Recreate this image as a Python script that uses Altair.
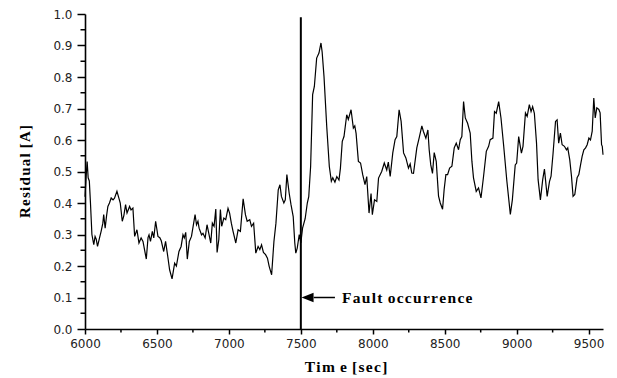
import altair as alt
import pandas as pd

time_sec = [
    6000, 6010, 6015, 6022, 6030, 6038, 6048, 6061, 6070, 6078, 6087, 6101, 6112, 6124, 6130,
    6140, 6150, 6159, 6170, 6182, 6195, 6205, 6222, 6235, 6245, 6259, 6270, 6282, 6292, 6310,
    6320, 6333, 6345, 6361, 6375, 6390, 6403, 6426, 6438, 6445, 6455, 6468, 6478, 6491, 6507,
    6520, 6530, 6547, 6560, 6575, 6588, 6605, 6623, 6635, 6653, 6668, 6681, 6690, 6700, 6711,
    6725, 6740, 6765, 6775, 6785, 6793, 6810, 6820, 6835, 6848, 6860, 6874, 6885, 6897, 6909,
    6918, 6930, 6941, 6950, 6965, 6978, 6994, 7005, 7017, 7029, 7048, 7064, 7080, 7099, 7115,
    7127, 7145, 7157, 7172, 7187, 7203, 7215, 7227, 7240, 7255, 7268, 7280, 7297, 7313, 7327,
    7343, 7355, 7365, 7382, 7392, 7403, 7419, 7432, 7447, 7458, 7465, 7475, 7489, 7500, 7512,
    7530, 7545, 7555, 7568, 7582, 7594, 7610, 7626, 7640, 7648, 7661, 7680, 7698, 7712, 7722,
    7737, 7750, 7765, 7775, 7788, 7800, 7819, 7830, 7849, 7865, 7875, 7884, 7900, 7915, 7930,
    7946, 7958, 7974, 7988, 7997, 8012, 8028, 8040, 8062, 8080, 8097, 8108, 8121, 8139, 8155,
    8167, 8183, 8197, 8214, 8230, 8248, 8260, 8271, 8283, 8306, 8322, 8341, 8352, 8369, 8383,
    8392, 8403, 8415, 8427, 8441, 8457, 8469, 8485, 8496, 8508, 8520, 8534, 8550, 8566, 8580,
    8596, 8608, 8619, 8631, 8643, 8659, 8677, 8689, 8700, 8719, 8735, 8752, 8770, 8789, 8805,
    8816, 8835, 8846, 8858, 8875, 8891, 8909, 8932, 8956, 8970, 8990, 9000, 9014, 9033, 9044,
    9061, 9073, 9088, 9100, 9111, 9123, 9138, 9149, 9165, 9181, 9193, 9212, 9228, 9239, 9253,
    9270, 9281, 9292, 9304, 9316, 9332, 9346, 9355, 9369, 9381, 9392, 9404, 9420, 9432, 9444,
    9455, 9467, 9479, 9490, 9502, 9513, 9525, 9536, 9546, 9557, 9571, 9580, 9590, 9595, 9600,
]

residual = [
    0.42, 0.50, 0.532, 0.48, 0.47, 0.40, 0.30, 0.268, 0.294, 0.285, 0.262, 0.289, 0.31, 0.336, 0.363,
    0.32, 0.36, 0.389, 0.40, 0.416, 0.41, 0.415, 0.437, 0.416, 0.40, 0.342, 0.36, 0.395, 0.368, 0.389,
    0.378, 0.384, 0.294, 0.315, 0.273, 0.289, 0.278, 0.222, 0.29, 0.299, 0.278, 0.31, 0.289, 0.342, 0.294,
    0.29, 0.28, 0.246, 0.278, 0.231, 0.188, 0.159, 0.209, 0.20, 0.246, 0.262, 0.299, 0.289, 0.307, 0.222,
    0.278, 0.294, 0.363, 0.331, 0.342, 0.32, 0.299, 0.304, 0.289, 0.331, 0.304, 0.273, 0.336, 0.326, 0.381,
    0.243, 0.284, 0.379, 0.326, 0.352, 0.347, 0.383, 0.368, 0.336, 0.31, 0.273, 0.315, 0.31, 0.413, 0.363,
    0.342, 0.347, 0.326, 0.336, 0.241, 0.262, 0.252, 0.267, 0.243, 0.236, 0.225, 0.199, 0.172, 0.278, 0.336,
    0.442, 0.458, 0.421, 0.40, 0.41, 0.49, 0.431, 0.394, 0.357, 0.273, 0.241, 0.257, 0.30, 0.273, 0.32,
    0.35, 0.40, 0.42, 0.516, 0.744, 0.77, 0.86, 0.876, 0.908, 0.88, 0.802, 0.643, 0.516, 0.469, 0.48,
    0.466, 0.484, 0.473, 0.51, 0.596, 0.611, 0.68, 0.665, 0.696, 0.638, 0.645, 0.621, 0.532, 0.527, 0.49,
    0.458, 0.484, 0.368, 0.43, 0.363, 0.41, 0.405, 0.479, 0.50, 0.527, 0.505, 0.53, 0.484, 0.559, 0.601,
    0.611, 0.696, 0.659, 0.559, 0.543, 0.511, 0.524, 0.495, 0.494, 0.575, 0.606, 0.645, 0.627, 0.606, 0.632,
    0.569, 0.521, 0.494, 0.56, 0.532, 0.422, 0.40, 0.38, 0.443, 0.49, 0.49, 0.511, 0.517, 0.575, 0.59,
    0.569, 0.601, 0.611, 0.722, 0.67, 0.653, 0.622, 0.532, 0.48, 0.437, 0.448, 0.416, 0.485, 0.564, 0.58,
    0.601, 0.606, 0.69, 0.685, 0.722, 0.67, 0.585, 0.469, 0.364, 0.41, 0.521, 0.527, 0.611, 0.558, 0.58,
    0.686, 0.675, 0.712, 0.69, 0.706, 0.685, 0.59, 0.474, 0.41, 0.474, 0.508, 0.421, 0.468, 0.485, 0.558,
    0.659, 0.664, 0.59, 0.622, 0.585, 0.58, 0.569, 0.575, 0.537, 0.485, 0.421, 0.427, 0.48, 0.49, 0.521,
    0.548, 0.569, 0.575, 0.585, 0.606, 0.60, 0.628, 0.733, 0.67, 0.702, 0.697, 0.686, 0.585, 0.58, 0.553,
]

x_major = [6000, 6500, 7000, 7500, 8000, 8500, 9000, 9500]
x_minor = [6250, 6750, 7250, 7750, 8250, 8750, 9250]
y_major = [0.0, 0.1, 0.2, 0.3, 0.4, 0.5, 0.6, 0.7, 0.8, 0.9, 1.0]
y_minor = [0.05, 0.15, 0.25, 0.35, 0.45, 0.55, 0.65, 0.75, 0.85, 0.95]

fault_time = [7500]
fault_line_bottom = [0.0]
fault_line_top = [0.99]
arrow_level = [0.1]
arrow_tail = [7737]
arrow_shaft_start = [7590]
arrow_tip = [7505]
label_time = [7786]
fault_text = ["F\u200aa\u200au\u200al\u200at \u200ao\u200ac\u200ac\u200au\u200ar\u200ar\u200ae\u200an\u200ac\u200ae"]
x_title = ["T\u200ai\u200am \u200ae \u200a[\u200as\u200ae\u200ac\u200a]"]
y_title = ["R\u200ae\u200as\u200ai\u200ad\u200au\u200aa\u200al \u200a[\u200aA\u200a]"]

W, H = 518, 315

xs = alt.Scale(domain=[6000, 9600], nice=False, zero=False)
ys = alt.Scale(domain=[0, 1], nice=False, zero=False)

x_axis = alt.Axis(values=x_major, title=None, grid=False, format="d",
                  domainColor="black", domainWidth=1.6, tickColor="black", tickWidth=1.5,
                  tickSize=5, labelFont="DejaVu Sans", labelFontSize=12, labelColor="#222",
                  labelPadding=4, labelFlush=False, labelOverlap=False)
y_axis = alt.Axis(values=y_major, title=None, grid=False, format=".1f",
                  domainColor="black", domainWidth=1.6, tickColor="black", tickWidth=1.5,
                  tickSize=8, labelFont="DejaVu Sans", labelFontSize=12, labelColor="#222",
                  labelPadding=5, labelFlush=False, labelOverlap=False)


def X(field):
    return alt.X(field, scale=xs, axis=x_axis)


def Y(field):
    return alt.Y(field, scale=ys, axis=y_axis)


df = pd.DataFrame({"t": time_sec, "r": residual})

line = alt.Chart(df).mark_line(color="black", strokeWidth=1.2).encode(
    x=X("t:Q"), y=Y("r:Q"),
)

xminor = alt.Chart(pd.DataFrame({"t": x_minor})).mark_rule(color="black", strokeWidth=1.5).encode(
    x=X("t:Q"), y=alt.value(H), y2=alt.value(H + 3.5),
)
yminor = alt.Chart(pd.DataFrame({"r": y_minor})).mark_rule(color="black", strokeWidth=1.5).encode(
    y=Y("r:Q"), x=alt.value(-4.5), x2=alt.value(0),
)

fault = alt.Chart(pd.DataFrame({"t": fault_time, "r": fault_line_bottom, "r2": fault_line_top})).mark_rule(
    color="black", strokeWidth=2).encode(
    x=X("t:Q"), y=Y("r:Q"), y2="r2:Q",
)

shaft = alt.Chart(pd.DataFrame({"t": arrow_shaft_start, "t2": arrow_tail, "r": arrow_level})).mark_rule(
    color="black", strokeWidth=1.5).encode(
    x=X("t:Q"), x2="t2:Q", y=Y("r:Q"),
)

head = alt.Chart(pd.DataFrame({"t": arrow_tip, "r": arrow_level})).mark_point(
    shape="M0,0 L2,-0.8 L2,0.8 Z", size=144, filled=True, color="black", opacity=1, strokeWidth=0).encode(
    x=X("t:Q"), y=Y("r:Q"),
)

label = alt.Chart(pd.DataFrame({"t": label_time, "r": arrow_level, "s": fault_text})).mark_text(
    align="left", baseline="middle", font="Liberation Serif", fontWeight="bold", fontSize=15.5,
    color="black").encode(
    x=X("t:Q"), y=Y("r:Q"), text="s:N",
)

xt = alt.Chart(pd.DataFrame({"s": x_title})).mark_text(
    align="center", baseline="middle", font="Liberation Serif", fontWeight="bold", fontSize=15.5,
    color="black").encode(x=alt.value(261), y=alt.value(353), text="s:N")

yt = alt.Chart(pd.DataFrame({"s": y_title})).mark_text(
    align="center", baseline="middle", font="Liberation Serif", fontWeight="bold", fontSize=15,
    color="black", angle=270).encode(x=alt.value(-60), y=alt.value(157.5), text="s:N")

chart = alt.layer(line, xminor, yminor, fault, shaft, head, label, xt, yt).properties(
    width=W, height=H,
    autosize=alt.AutoSizeParams(type="none"),
    padding={"left": 85, "top": 14, "right": 14, "bottom": 49},
    background="white",
).configure_view(stroke=None)

chart.save("out.html", embed_options={"renderer": "svg", "actions": False})
